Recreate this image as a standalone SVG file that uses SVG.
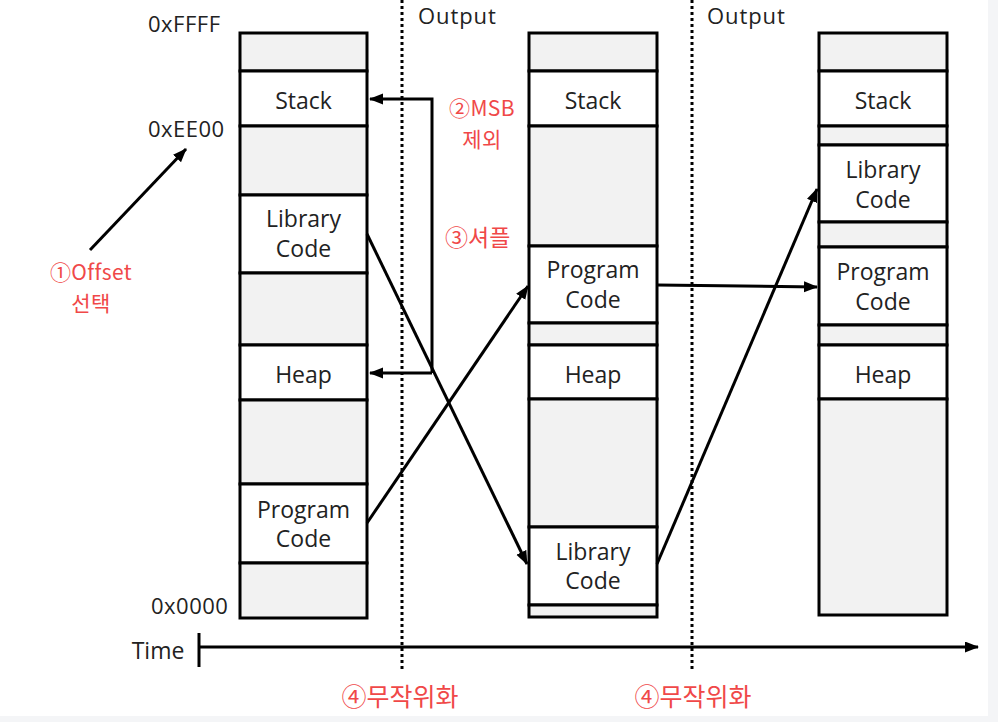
<svg xmlns="http://www.w3.org/2000/svg" width="998" height="722" viewBox="0 0 998 722">
<style>
.gap{fill:#f2f2f2;stroke:#000;stroke-width:3}
.seg{fill:#fff;stroke:#000;stroke-width:3}
.lbl{font-family:"Open Sans","Noto Sans",sans-serif;font-size:23px;fill:#222;text-anchor:middle}
.addr{font-family:"Open Sans","Noto Sans",sans-serif;font-size:22px;fill:#222;letter-spacing:0.5px}
.red{font-family:"Noto Sans CJK KR","Noto Sans",sans-serif;font-size:23px;fill:#f04848;font-weight:400}
.red2{font-family:"Noto Sans CJK KR","Noto Sans",sans-serif;font-size:21px;fill:#f04848;font-weight:400;letter-spacing:0.4px}
.conn{stroke:#000;stroke-width:3;fill:none}
.dot{stroke:#000;stroke-width:3;stroke-dasharray:3 3;fill:none}
</style>
<defs>
<marker id="ah" markerUnits="userSpaceOnUse" markerWidth="15" markerHeight="12" refX="13" refY="5.5" orient="auto">
<path d="M0,0 L14,5.5 L0,11 z" fill="#000"/>
</marker>
</defs>
<rect x="0" y="0" width="998" height="722" fill="#f4f5f7"/>
<rect x="0" y="0" width="988" height="716" fill="#fff"/>

<g id="dividers">
<line class="dot" x1="402" y1="0" x2="402" y2="670"/>
<line class="dot" x1="692" y1="0" x2="692" y2="670"/>
</g>

<g id="column1">
<rect class="gap" x="240" y="33" width="127" height="38"/>
<rect class="seg" x="240" y="71" width="127" height="55"/>
<rect class="gap" x="240" y="126" width="127" height="69"/>
<rect class="seg" x="240" y="195" width="127" height="78"/>
<rect class="gap" x="240" y="273" width="127" height="72"/>
<rect class="seg" x="240" y="345" width="127" height="55"/>
<rect class="gap" x="240" y="400" width="127" height="84"/>
<rect class="seg" x="240" y="484" width="127" height="79"/>
<rect class="gap" x="240" y="563" width="127" height="55"/>
<text class="lbl" x="303.5" y="109">Stack</text>
<text class="lbl" x="303.5" y="227">Library</text>
<text class="lbl" x="303.5" y="257">Code</text>
<text class="lbl" x="303.5" y="383">Heap</text>
<text class="lbl" x="303.5" y="518">Program</text>
<text class="lbl" x="303.5" y="547">Code</text>
</g>

<g id="column2">
<rect class="gap" x="529" y="33" width="128" height="38"/>
<rect class="seg" x="529" y="71" width="128" height="55"/>
<rect class="gap" x="529" y="126" width="128" height="120"/>
<rect class="seg" x="529" y="246" width="128" height="77"/>
<rect class="gap" x="529" y="323" width="128" height="22"/>
<rect class="seg" x="529" y="345" width="128" height="54"/>
<rect class="gap" x="529" y="399" width="128" height="128"/>
<rect class="seg" x="529" y="527" width="128" height="78"/>
<rect class="gap" x="529" y="605" width="128" height="12"/>
<text class="lbl" x="593" y="109">Stack</text>
<text class="lbl" x="593" y="278">Program</text>
<text class="lbl" x="593" y="308">Code</text>
<text class="lbl" x="593" y="383">Heap</text>
<text class="lbl" x="593" y="560">Library</text>
<text class="lbl" x="593" y="589">Code</text>
</g>

<g id="column3">
<rect class="gap" x="819" y="33" width="128" height="38"/>
<rect class="seg" x="819" y="71" width="128" height="55"/>
<rect class="gap" x="819" y="126" width="128" height="19"/>
<rect class="seg" x="819" y="145" width="128" height="77"/>
<rect class="gap" x="819" y="222" width="128" height="25"/>
<rect class="seg" x="819" y="247" width="128" height="78"/>
<rect class="gap" x="819" y="325" width="128" height="20"/>
<rect class="seg" x="819" y="345" width="128" height="54"/>
<rect class="gap" x="819" y="399" width="128" height="216"/>
<text class="lbl" x="883" y="109">Stack</text>
<text class="lbl" x="883" y="178">Library</text>
<text class="lbl" x="883" y="208">Code</text>
<text class="lbl" x="883" y="280">Program</text>
<text class="lbl" x="883" y="310">Code</text>
<text class="lbl" x="883" y="383">Heap</text>
</g>

<g id="labels">
<text class="addr" x="148" y="32">0xFFFF</text>
<text class="addr" x="148" y="137">0xEE00</text>
<text class="addr" x="151" y="614">0x0000</text>
<text class="addr" x="418" y="24" style="letter-spacing:0.9px">Output</text>
<text class="addr" x="707" y="24" style="letter-spacing:0.9px">Output</text>
<text class="lbl" x="158" y="659">Time</text>
<text class="red2" x="482" y="116" text-anchor="middle">②MSB</text>
<text class="red2" x="482" y="147" text-anchor="middle">제외</text>
<text class="red" x="445" y="246">③셔플</text>
<text class="red2" x="91" y="280" text-anchor="middle">①Offset</text>
<text class="red2" x="91" y="311" text-anchor="middle">선택</text>
<text class="red" x="400" y="706" text-anchor="middle" style="font-size:25px">④무작위화</text>
<text class="red" x="693" y="706" text-anchor="middle" style="font-size:25px">④무작위화</text>
</g>

<g id="connectors">
<line class="conn" x1="90" y1="250" x2="186" y2="149" marker-end="url(#ah)"/>
<polyline class="conn" points="432,373 432,99 370,99" marker-end="url(#ah)"/>
<line class="conn" x1="432" y1="373" x2="370" y2="373" marker-end="url(#ah)"/>
<line class="conn" x1="367" y1="234" x2="527" y2="564" marker-end="url(#ah)"/>
<line class="conn" x1="367" y1="523" x2="528" y2="286" marker-end="url(#ah)"/>
<line class="conn" x1="657" y1="285" x2="817" y2="287" marker-end="url(#ah)"/>
<line class="conn" x1="657" y1="564" x2="817" y2="189" marker-end="url(#ah)"/>
<line class="conn" x1="199" y1="647" x2="978" y2="647" marker-end="url(#ah)"/>
<line class="conn" x1="199" y1="633" x2="199" y2="667"/>
</g>
</svg>
